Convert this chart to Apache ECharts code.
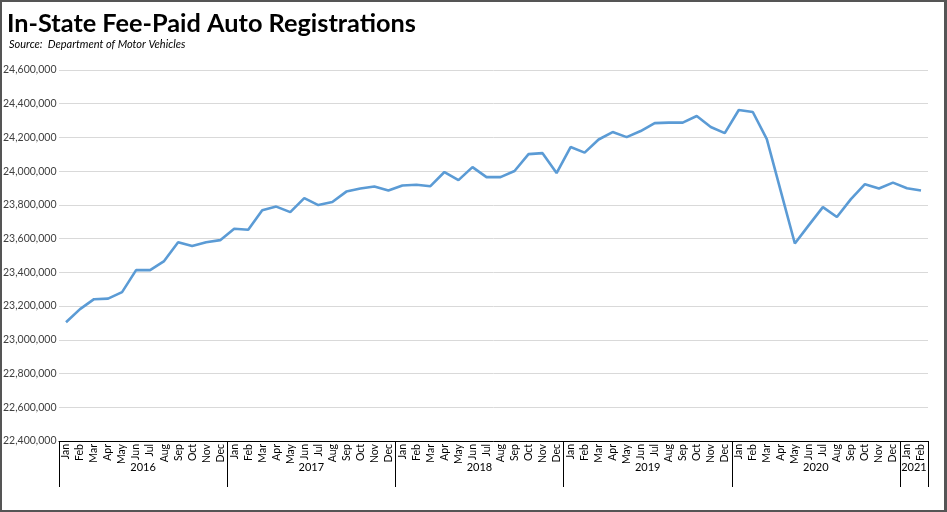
<!DOCTYPE html>
<html>
<head>
<meta charset="utf-8">
<script src="https://cdn.jsdelivr.net/npm/echarts@6/dist/echarts.min.js"></script>
<style>
html,body{margin:0;padding:0;background:#fff;}
#wrap{width:947px;height:512px;box-sizing:border-box;border:2px solid #555;border-right-width:3px;position:relative;overflow:hidden;}
#chart{position:absolute;left:-2px;top:-2px;width:947px;height:512px;}
</style>
</head>
<body>
<div id="wrap"><div id="chart"></div></div>
<script>
var months = ['Jan','Feb','Mar','Apr','May','Jun','Jul','Aug','Sep','Oct','Nov','Dec'];
var years = ['2016','2017','2018','2019','2020','2021'];
var monthCounts = [12,12,12,12,12,2];
var registrations = [
  23104000,23182000,23241000,23244000,23283000,23413000,23413000,23467000,23579000,23556000,23579000,23591000,
  23659000,23653000,23769000,23790000,23757000,23840000,23799000,23817000,23879000,23897000,23909000,23885000,
  23915000,23920000,23911000,23995000,23947000,24024000,23965000,23965000,24001000,24101000,24107000,23989000,
  24143000,24110000,24188000,24232000,24202000,24238000,24285000,24288000,24288000,24327000,24262000,24226000,
  24363000,24351000,24190000,23880000,23571000,23680000,23787000,23728000,23834000,23923000,23897000,23932000,
  23899000,23885000
];
var yTicks = {min:22400000, max:24600000, step:200000};

var cats = [];
var yearMid = {};
var pos = 0;
years.forEach(function(y, k){
  for (var m = 0; m < monthCounts[k]; m++) cats.push(months[m]);
  yearMid[pos + monthCounts[k]/2] = y;
  pos += monthCounts[k];
});
var total = cats.length;

var chart = echarts.init(document.getElementById('chart'));
chart.setOption({
  animation:false,
  title:[{
    text:'In-State Fee-Paid Auto Registrations',
    left:2, top:6,
    textStyle:{fontFamily:'Lato', fontWeight:'bold', fontSize:25.3, color:'#000'}
  },{
    text:'Source:  Department of Motor Vehicles',
    left:4, top:34,
    textStyle:{fontFamily:'Lato', fontStyle:'italic', fontWeight:'normal', fontSize:11, color:'#000'}
  }],
  grid:{left:59, right:19, top:70, bottom:71},
  xAxis:[{
    type:'category', data:cats, position:'bottom', boundaryGap:true,
    axisLine:{show:true, onZero:false, lineStyle:{color:'#000', width:1}},
    axisTick:{show:false},
    axisLabel:{interval:0, rotate:90, margin:3, fontFamily:'Lato', fontSize:10.5, color:'#000'}
  },{
    type:'value', position:'bottom', min:0, max:total, interval:12,
    axisLine:{show:false, onZero:false},
    axisTick:{show:true, length:46, lineStyle:{color:'#000', width:1}},
    axisLabel:{show:false}, splitLine:{show:false}
  },{
    type:'value', position:'bottom', min:0, max:total, interval:1,
    axisLine:{show:false, onZero:false},
    axisTick:{show:false}, splitLine:{show:false},
    axisLabel:{show:true, margin:21, fontFamily:'Lato', fontSize:11, color:'#000',
      formatter:function(v){ return yearMid[v] || ''; }}
  }],
  yAxis:{
    type:'value', min:yTicks.min, max:yTicks.max, interval:yTicks.step,
    axisLine:{show:false}, axisTick:{show:false},
    splitLine:{lineStyle:{color:'#d9d9d9', width:1}},
    axisLabel:{align:'left', margin:56, fontFamily:'Lato', fontSize:10.5, color:'#404040',
      formatter:function(v){ return v.toLocaleString('en-US'); }}
  },
  series:[{
    type:'line', xAxisIndex:0, data:registrations, showSymbol:false, symbol:'none',
    lineStyle:{color:'#5b9bd5', width:2.6}
  }]
});
</script>
</body>
</html>
